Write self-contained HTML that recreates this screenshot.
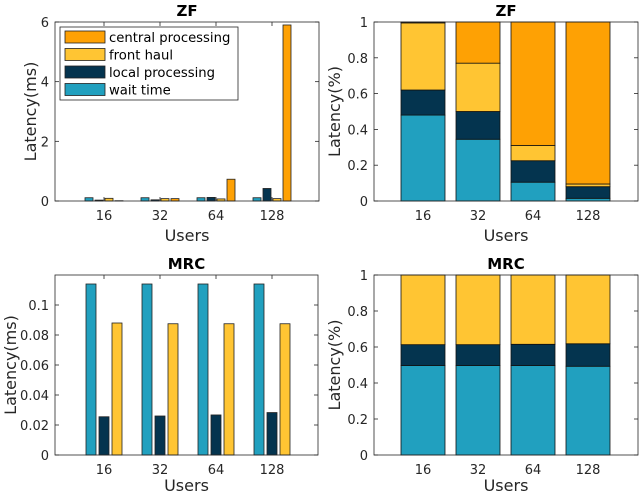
<!DOCTYPE html>
<html><head><meta charset="utf-8"><style>
body{margin:0;background:#fff}
svg text{font-family:"DejaVu Sans","Liberation Sans",sans-serif;fill:#262626}
</style></head><body>
<svg id="c" width="640" height="493" viewBox="0 0 640 493" xmlns="http://www.w3.org/2000/svg"></svg>
<script>
const categories=["16","32","64","128"];
const zfWait=[0.11,0.11,0.11,0.11];
const zfLocal=[0.03,0.04,0.12,0.42];
const zfFront=[0.09,0.08,0.07,0.08];
const zfCentral=[0.01,0.08,0.73,5.9];
const zfFracWait=[0.48,0.345,0.105,0.015];
const zfFracLocal=[0.14,0.155,0.12,0.065];
const zfFracFront=[0.375,0.27,0.085,0.015];
const zfFracCentral=[0.005,0.23,0.69,0.905];
const mrcWait=[0.114,0.114,0.114,0.114];
const mrcLocal=[0.0255,0.026,0.0267,0.0283];
const mrcFront=[0.088,0.0875,0.0875,0.0875];
const mrcFracWait=[0.497,0.497,0.497,0.493];
const mrcFracLocal=[0.116,0.116,0.118,0.125];
const mrcFracFront=[0.387,0.387,0.385,0.382];
const zfTicks=["0","2","4","6"];
const fracTicks=["0","0.2","0.4","0.6","0.8","1"];
const mrcTicks=["0","0.02","0.04","0.06","0.08","0.1"];
const legendLabels=["central processing","front haul","local processing","wait time"];
const C={wait:"#21a0bf",local:"#04344f",front:"#ffc533",central:"#fea104"};
const NS="http://www.w3.org/2000/svg";
const svg=document.getElementById("c");
function el(t,a,p){const e=document.createElementNS(NS,t);for(const k in a)e.setAttribute(k,a[k]);(p||svg).appendChild(e);return e;}
function axes(name,x0,x1,y0,y1,ymax,ticks,xc,title,ylab,ylx,xlOff){
  const g=el("g",{});
  
  
  const ys=v=>y1-(v/ymax)*(y1-y0);
  ticks.forEach(t=>{const y=ys(parseFloat(t));
    el("line",{x1:x0,x2:x0+4,y1:y,y2:y,stroke:"#262626","stroke-width":0.8},g);
    el("line",{x1:x1,x2:x1-4,y1:y,y2:y,stroke:"#262626","stroke-width":0.8},g);
    const tx=el("text",{x:x0-6,y:y+5,"text-anchor":"end","font-size":13},g);tx.textContent=t;
    
    });
  categories.forEach((c,i)=>{const x=xc(i);
    el("line",{x1:x,x2:x,y1:y1,y2:y1-4,stroke:"#262626","stroke-width":0.8},g);
    el("line",{x1:x,x2:x,y1:y0,y2:y0+4,stroke:"#262626","stroke-width":0.8},g);
    const tx=el("text",{x:x,y:y1+19,"text-anchor":"middle","font-size":13},g);tx.textContent=c;
    
    });
  const t=el("text",{x:(x0+x1)/2,y:y0-6,"text-anchor":"middle","font-size":15,"font-weight":"bold",style:"fill:#000"},g);t.textContent=title;
  
  
  const xl=el("text",{x:(x0+x1)/2,y:y1+xlOff,"text-anchor":"middle","font-size":16},g);xl.textContent="Users";
  
  
  const yl=el("text",{x:0,y:0,"text-anchor":"middle","font-size":16,transform:`translate(${ylx},${(y0+y1)/2}) rotate(-90)`},g);yl.textContent=ylab;
  
  
  return {g,ys,frame:()=>el("rect",{x:x0,y:y0,width:x1-x0,height:y1-y0,fill:"none",stroke:"#262626","stroke-width":0.8},g)};
}
function grouped(ax,series,colors,xc,offs,w){
  series.forEach((s,si)=>s.forEach((v,i)=>{const y=ax.ys(v);
    const r=el("rect",{x:xc(i)+offs[si]-w/2,y:y,width:w,height:ax.ys(0)-y,fill:colors[si],stroke:"#222","stroke-width":0.8},ax.g);
    
    }));
}
function stacked(ax,series,colors,xc,w){
  categories.forEach((c,i)=>{let acc=0;series.forEach((s,si)=>{const a=ax.ys(acc),b=ax.ys(acc+s[i]);acc+=s[i];
    const r=el("rect",{x:xc(i)-w/2,y:b,width:w,height:a-b,fill:colors[si],stroke:"#111","stroke-width":0.8},ax.g);
    
    });});
}
const xl=i=>104+56*i, xr=i=>423+55*i;
let a=axes("zf-latency-chart",55,319,22,201,6,zfTicks,xl,"ZF","Latency(ms)",36,40);
grouped(a,[zfWait,zfLocal,zfFront,zfCentral],[C.wait,C.local,C.front,C.central],xl,[-15,-5,5,15],8);
a.frame();
const lg=el("g",{});


el("rect",{x:60,y:27,width:178,height:73,fill:"#fff",stroke:"#262626","stroke-width":0.8},lg);
[C.central,C.front,C.local,C.wait].forEach((col,k)=>{const y=31+k*17.5;
  const sw=el("rect",{x:65,y:y,width:40,height:12,fill:col,stroke:"#222","stroke-width":0.8},lg);
  
  
  const t=el("text",{x:109,y:y+11,"font-size":13.2,style:"fill:#000"},lg);t.textContent=legendLabels[k];
  
  });
a=axes("zf-fraction-chart",374,638,22,201,1,fracTicks,xr,"ZF","Latency(%)",340,40);
stacked(a,[zfFracWait,zfFracLocal,zfFracFront,zfFracCentral],[C.wait,C.local,C.front,C.central],xr,44);
a.frame();
a=axes("mrc-latency-chart",55,318,275,455,0.12,mrcTicks,xl,"MRC","Latency(ms)",16,36);
grouped(a,[mrcWait,mrcLocal,mrcFront],[C.wait,C.local,C.front],xl,[-13,0,13],10);
a.frame();
a=axes("mrc-fraction-chart",374,638,275,455,1,fracTicks,xr,"MRC","Latency(%)",340,36);
stacked(a,[mrcFracWait,mrcFracLocal,mrcFracFront],[C.wait,C.local,C.front],xr,44);
a.frame();
</script>
</body></html>
